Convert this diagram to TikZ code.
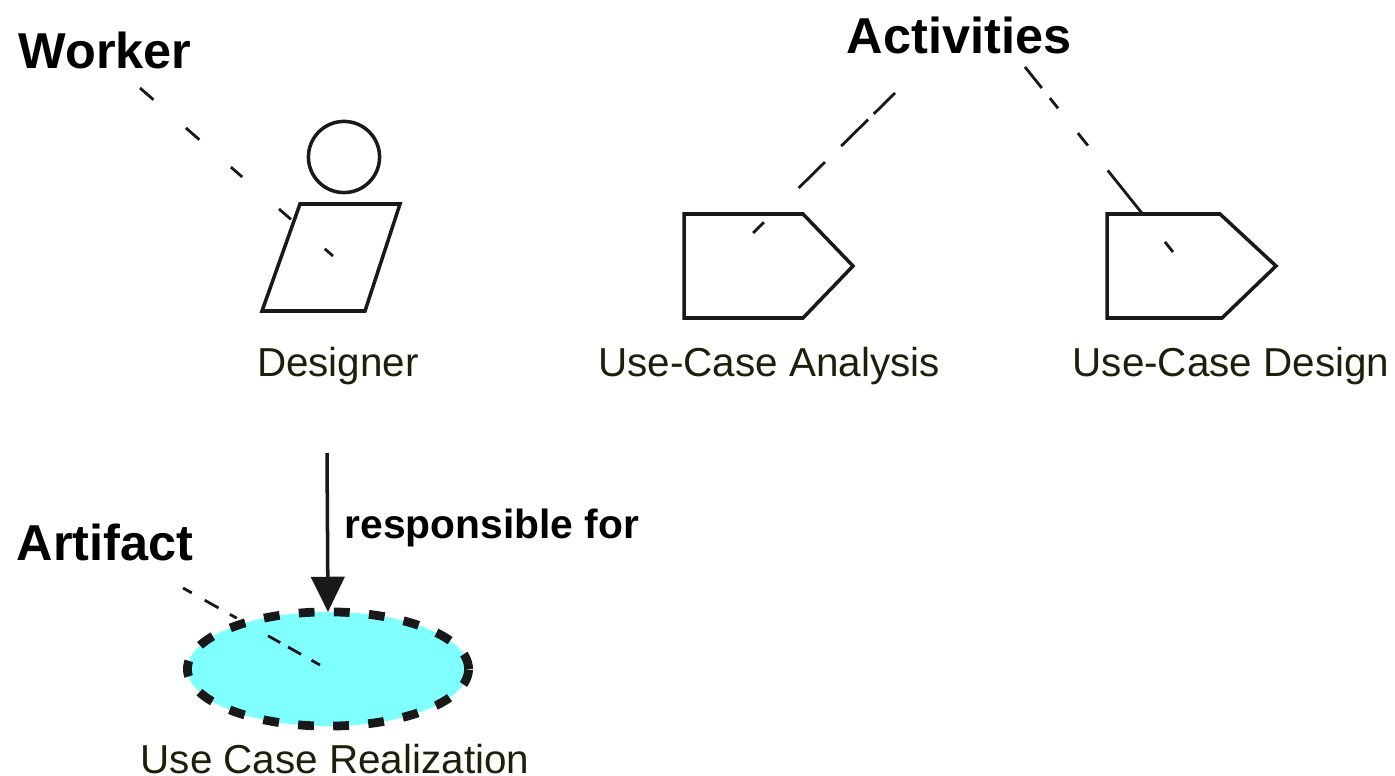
\documentclass[tikz,border=0pt]{standalone}
\usepackage{fontspec}
\setmainfont{Liberation Sans}
\usetikzlibrary{arrows.meta, shapes.geometric}
\definecolor{fillcyan}{HTML}{7FFFFF}
\definecolor{labelink}{HTML}{1E1E0A}

\begin{document}
\begin{tikzpicture}[x=0.02cm, y=-0.02cm, semithick,
    heading/.style={font=\fontsize{28.7}{32}\selectfont\bfseries, inner sep=0pt},
    caption/.style={font=\fontsize{23}{26}\selectfont, text=labelink, inner sep=0pt},
    outline/.style={draw=black!90, line width=2pt, line join=miter},
    note/.style={draw=black!90, line width=1.6pt}]

  \useasboundingbox (0,0) rectangle (1395,776);

  % Labels
  \node[heading] (worker) at (105,50) {Worker};
  \node[heading] (activities) at (959,35) {Activities};
  \node[heading] (artifact) at (105,542) {Artifact};
  \node[heading, font=\fontsize{23.2}{26}\selectfont\bfseries] (resp) at (492,528) {responsible for};

  % Worker
  \node[circle, outline, minimum size=40.5pt, inner sep=0pt] (head) at (344,157) {};
  \draw[outline] (300,204) -- (400,204) -- (365,311) -- (262,311) -- cycle;
  \node[caption] (designer) at (338,366) {Designer};

  % Activities
  \draw[outline] (684,214) -- (803,214) -- (853,266) -- (803,318) -- (684,318) -- cycle;
  \node[caption] (analysis) at (769,366) {Use-Case Analysis};
  \draw[outline] (1107,214) -- (1220,214) -- (1276,266) -- (1222,318) -- (1107,318) -- cycle;
  \node[caption] (design) at (1231,366) {Use-Case Design};

  % Artifact
  \node[ellipse, fill=fillcyan, draw=black!90, line width=5pt, inner sep=0pt, outer sep=0pt,
    minimum width=160pt, minimum height=65pt, dash pattern=on 9pt off 11pt] (realization) at (328,669) {};
  \node[caption] (realname) at (335,759) {Use Case Realization};

  % Free ends
  \coordinate (workerfrom) at (140,88);
  \coordinate (workerto) at (333,256);
  \coordinate (analysisfrom) at (895,93);
  \coordinate (analysisto) at (753,233);
  \coordinate (designfrom) at (1025,67);
  \coordinate (designto) at (1173,252);
  \coordinate (artifactfrom) at (183,588);
  \coordinate (artifactto) at (320,665);
  \coordinate (respfrom) at (327,453);

  % Transitions
  \draw[note, dash pattern=on 10.2pt off 24.4pt on 10.2pt off 23.8pt on 8.5pt off 27.8pt on 9pt off 25.5pt on 6.8pt off 50pt] (workerfrom) -- (workerto);
  \draw[note, dash pattern=on 17pt off 4.5pt on 21.5pt off 13pt on 21pt off 27.8pt on 9pt off 50pt] (analysisfrom) -- (analysisto);
  \draw[note, dash pattern=on 15.3pt off 7.4pt on 7.4pt off 18.1pt on 9.1pt off 18.1pt on 31.7pt off 20.4pt on 7.4pt off 50pt] (designfrom) -- (designto);
  \draw[note, dash pattern=on 5.7pt off 8.5pt on 9pt off 7.4pt on 4.5pt off 20.4pt on 8pt off 5.1pt on 8.5pt off 6.8pt on 7.4pt off 50pt] (artifactfrom) -- (artifactto);
  \draw[-{Triangle[length=20pt, width=19pt]}, draw=black!90, fill=black!90, line width=2pt] (respfrom) -- (realization.north);

\end{tikzpicture}
\end{document}
